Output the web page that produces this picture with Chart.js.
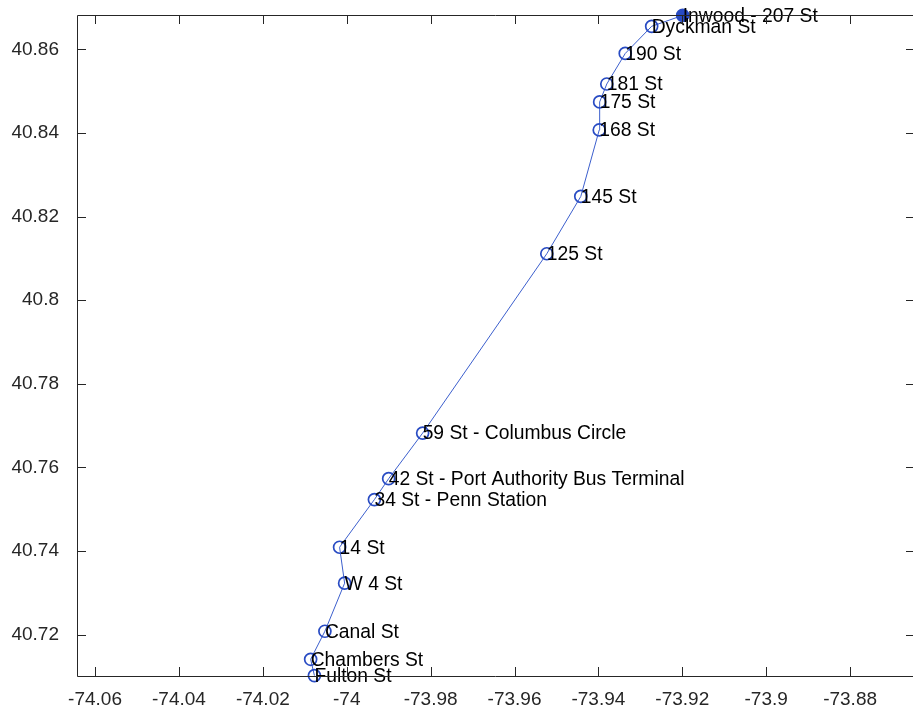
<!DOCTYPE html>
<html>
<head>
<meta charset="utf-8">
<script src="https://cdn.jsdelivr.net/npm/chart.js@4/dist/chart.umd.min.js"></script>
<style>
html, body { margin: 0; padding: 0; background: #fff; }
#wrap { width: 913px; height: 709px; position: relative; }
</style>
</head>
<body>
<div id="wrap"><canvas id="chart"></canvas></div>
<script>

// A train stations, south to north
const stations = ["Fulton St", "Chambers St", "Canal St", "W 4 St", "14 St",
  "34 St - Penn Station", "42 St - Port Authority Bus Terminal", "59 St - Columbus Circle",
  "125 St", "145 St", "168 St", "175 St", "181 St", "190 St", "Dyckman St", "Inwood - 207 St"]
const lons = [-74.0077, -74.0086, -74.0052, -74.0005, -74.0017,
  -73.9934, -73.9900, -73.9819,
  -73.9523, -73.9442, -73.9398, -73.9397, -73.9380, -73.9336, -73.9273, -73.9199]
const lats = [40.7102, 40.7141, 40.7208, 40.7323, 40.7409,
  40.7523, 40.7573, 40.7682,
  40.8111, 40.8248, 40.8407, 40.8474, 40.8517, 40.8590, 40.8655, 40.8681]

const xTicks = [-74.06, -74.04, -74.02, -74, -73.98, -73.96, -73.94, -73.92, -73.9, -73.88]
const yTicks = [40.72, 40.74, 40.76, 40.78, 40.8, 40.82, 40.84, 40.86]

const points = lons.map((x, i) => ({x: x, y: lats[i]}))
const axisColor = "#262626"
const font = "Liberation Sans, Arial, Helvetica, sans-serif"

// MATLAB style box with inward ticks
const boxPlugin = {
  id: "box",
  afterDraw(chart){
    const ctx = chart.ctx
    const a = chart.chartArea
    const xs = chart.scales.x, ys = chart.scales.y
    ctx.save()
    ctx.strokeStyle = axisColor
    ctx.lineWidth = 1
    ctx.beginPath()
    ctx.moveTo(a.left + 0.5, a.top + 0.5)
    ctx.lineTo(a.right + 0.5, a.top + 0.5)
    ctx.lineTo(a.right + 0.5, a.bottom + 0.5)
    ctx.lineTo(a.left + 0.5, a.bottom + 0.5)
    ctx.closePath()
    ctx.stroke()
    ctx.beginPath()
    xTicks.forEach(v => {
      const px = Math.round(xs.getPixelForValue(v)) + 0.5
      ctx.moveTo(px, a.bottom); ctx.lineTo(px, a.bottom - 9)
      ctx.moveTo(px, a.top); ctx.lineTo(px, a.top + 9)
    })
    yTicks.forEach(v => {
      const py = Math.round(ys.getPixelForValue(v)) + 0.5
      ctx.moveTo(a.left, py); ctx.lineTo(a.left + 9, py)
      ctx.moveTo(a.right, py); ctx.lineTo(a.right - 7, py)
    })
    ctx.stroke()
    ctx.restore()
  }
}

// station names next to each marker
const labelPlugin = {
  id: "labels",
  afterDatasetsDraw(chart){
    const ctx = chart.ctx
    const meta = chart.getDatasetMeta(0)
    ctx.save()
    ctx.fillStyle = "#000"
    ctx.font = "19.3px " + font
    ctx.textAlign = "left"
    ctx.textBaseline = "middle"
    meta.data.forEach((el, i) => {
      ctx.fillText(stations[i], el.x, el.y + 1)
    })
    ctx.restore()
  }
}

const ctx = document.getElementById("chart").getContext("2d")

new Chart(ctx, {
  type: "scatter",
  data: {
    datasets: [{
      data: points,
      showLine: true,
      borderColor: "rgb(60,95,205)",
      borderWidth: 1,
      pointRadius: 6,
      pointBorderWidth: 1.7,
      pointBorderColor: "rgb(40,75,195)",
      pointBackgroundColor: points.map((p, i) => i === points.length - 1 ? "rgb(40,75,195)" : "rgba(0,0,0,0)"),
      clip: false
    }]
  },
  options: {
    responsive: true,
    maintainAspectRatio: false,
    animation: false,
    layout: { autoPadding: false, padding: { top: 15, right: 0, left: 0, bottom: 0 } },
    plugins: { legend: { display: false }, tooltip: { enabled: false } },
    scales: {
      x: {
        type: "linear",
        min: -74.0643,
        max: -73.8650,
        afterBuildTicks: s => { s.ticks = xTicks.map(v => ({value: v})) },
        afterFit: s => { s.height = 33; s.paddingLeft = 0; s.paddingRight = 0 },
        grid: { display: false },
        border: { display: false },
        ticks: {
          color: axisColor,
          font: { size: 19, family: font },
          padding: 4,
          maxRotation: 0,
          autoSkip: false,
          callback: v => String(Number(v.toFixed(2)))
        }
      },
      y: {
        type: "linear",
        min: 40.7101,
        max: 40.8682,
        afterBuildTicks: s => { s.ticks = yTicks.map(v => ({value: v})) },
        afterFit: s => { s.width = 77; s.paddingTop = 0; s.paddingBottom = 0 },
        grid: { display: false },
        border: { display: false },
        ticks: {
          color: axisColor,
          font: { size: 19, family: font },
          padding: 10,
          autoSkip: false,
          callback: v => String(Number(v.toFixed(2)))
        }
      }
    }
  },
  plugins: [boxPlugin, labelPlugin]
})

</script>
</body>
</html>
